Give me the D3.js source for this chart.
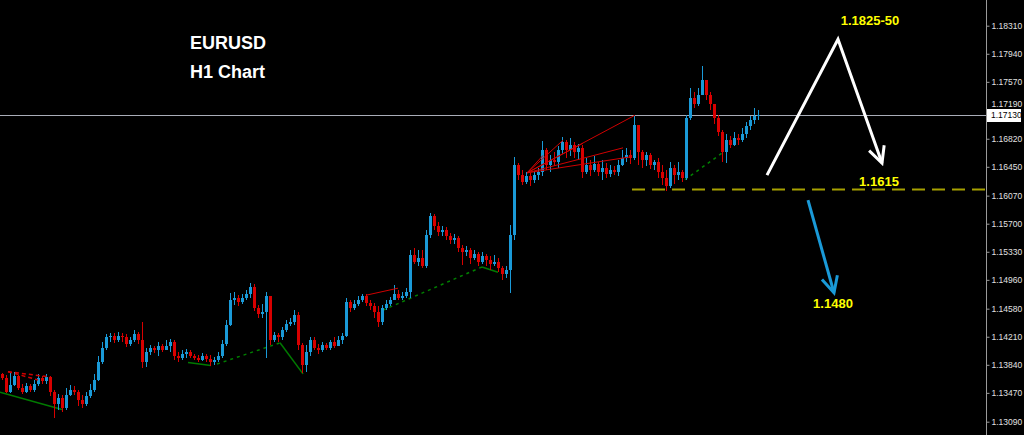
<!DOCTYPE html>
<html>
<head>
<meta charset="utf-8">
<script src="https://cdn.jsdelivr.net/npm/d3@7"></script>
<style>
  body { margin: 0; background: #000; overflow: hidden; }
</style>
</head>
<body>
<div id="chart-area"></div>
<script>
const WIDTH = 1024
const HEIGHT = 435
const AXIS_X = 986

// price scale labels (right side)
const tickLabels = ["1.18310", "1.17940", "1.17570", "1.17190", "1.16820", "1.16450", "1.16070",
  "1.15700", "1.15330", "1.14960", "1.14580", "1.14210", "1.13840", "1.13470", "1.13090"]
const tickValues = tickLabels.map(Number)
const lastPrice = 1.17130

// H1 candles, open = previous close
const firstOpen = 1.1372
const closes = [
  1.1367, 1.1348, 1.1357, 1.1369, 1.1354, 1.1348, 1.1356, 1.1351, 1.1359, 1.1367,
  1.1363, 1.1368, 1.1348, 1.1332, 1.1340, 1.1327, 1.1344, 1.1351, 1.1348, 1.1338,
  1.1332, 1.1343, 1.1351, 1.1364, 1.1388, 1.1406, 1.1420, 1.1422, 1.1417, 1.1422,
  1.1420, 1.1412, 1.1417, 1.1425, 1.1417, 1.1388, 1.1401, 1.1406, 1.1404, 1.1409,
  1.1404, 1.1409, 1.1414, 1.1396, 1.1393, 1.1398, 1.1401, 1.1396, 1.1393, 1.1390,
  1.1396, 1.1392, 1.1388, 1.1390, 1.1396, 1.1412, 1.1437, 1.1470, 1.1472, 1.1467,
  1.1472, 1.1477, 1.1487, 1.1459, 1.1451, 1.1454, 1.1475, 1.1417, 1.1423, 1.1420,
  1.1430, 1.1438, 1.1441, 1.1450, 1.1410, 1.1384, 1.1401, 1.1417, 1.1406, 1.1404,
  1.1410, 1.1406, 1.1414, 1.1409, 1.1417, 1.1422, 1.1467, 1.1459, 1.1464, 1.1470,
  1.1475, 1.1466, 1.1462, 1.1454, 1.1441, 1.1459, 1.1464, 1.1470, 1.1477, 1.1472,
  1.1475, 1.1480, 1.1529, 1.1520, 1.1525, 1.1514, 1.1555, 1.1580, 1.1567, 1.1559,
  1.1562, 1.1554, 1.1549, 1.1551, 1.1538, 1.1533, 1.1535, 1.1525, 1.1530, 1.1520,
  1.1528, 1.1522, 1.1517, 1.1520, 1.1512, 1.1504, 1.1509, 1.1555, 1.1647, 1.1634,
  1.1625, 1.1633, 1.1628, 1.1634, 1.1638, 1.1667, 1.1647, 1.1654, 1.1651, 1.1667,
  1.1678, 1.1667, 1.1674, 1.1665, 1.1670, 1.1638, 1.1647, 1.1641, 1.1649, 1.1638,
  1.1644, 1.1636, 1.1641, 1.1638, 1.1647, 1.1657, 1.1661, 1.1657, 1.1700, 1.1665,
  1.1654, 1.1661, 1.1647, 1.1651, 1.1638, 1.1630, 1.1620, 1.1644, 1.1634, 1.1638,
  1.1630, 1.1709, 1.1736, 1.1728, 1.1740, 1.1759, 1.1740, 1.1728, 1.1709, 1.1691,
  1.1665, 1.1680, 1.1674, 1.1683, 1.1680, 1.1688, 1.1699, 1.1707, 1.1712, 1.1713
]
const highs = [
  1.1373, 1.1371, 1.1373, 1.1375, 1.1371, 1.1359, 1.1360, 1.1359, 1.1364, 1.1372,
  1.1369, 1.1372, 1.1369, 1.1351, 1.1346, 1.1344, 1.1354, 1.1357, 1.1356, 1.1351,
  1.1344, 1.1348, 1.1359, 1.1372, 1.1396, 1.1414, 1.1425, 1.1426, 1.1426, 1.1427,
  1.1426, 1.1425, 1.1421, 1.1430, 1.1427, 1.1441, 1.1406, 1.1410, 1.1409, 1.1414,
  1.1412, 1.1417, 1.1418, 1.1417, 1.1401, 1.1404, 1.1405, 1.1404, 1.1398, 1.1397,
  1.1400, 1.1398, 1.1397, 1.1394, 1.1401, 1.1417, 1.1443, 1.1479, 1.1480, 1.1476,
  1.1477, 1.1483, 1.1492, 1.1491, 1.1463, 1.1464, 1.1480, 1.1470, 1.1427, 1.1426,
  1.1434, 1.1443, 1.1446, 1.1456, 1.1454, 1.1413, 1.1410, 1.1421, 1.1420, 1.1412,
  1.1414, 1.1413, 1.1417, 1.1420, 1.1422, 1.1426, 1.1472, 1.1470, 1.1470, 1.1475,
  1.1477, 1.1477, 1.1470, 1.1466, 1.1462, 1.1463, 1.1470, 1.1474, 1.1489, 1.1483,
  1.1480, 1.1485, 1.1535, 1.1538, 1.1535, 1.1535, 1.1562, 1.1584, 1.1583, 1.1572,
  1.1567, 1.1565, 1.1558, 1.1557, 1.1554, 1.1542, 1.1541, 1.1538, 1.1535, 1.1533,
  1.1533, 1.1530, 1.1528, 1.1529, 1.1525, 1.1514, 1.1514, 1.1568, 1.1658, 1.1650,
  1.1641, 1.1638, 1.1637, 1.1640, 1.1644, 1.1679, 1.1670, 1.1661, 1.1665, 1.1673,
  1.1684, 1.1680, 1.1683, 1.1678, 1.1675, 1.1674, 1.1657, 1.1654, 1.1659, 1.1651,
  1.1654, 1.1650, 1.1647, 1.1646, 1.1654, 1.1667, 1.1670, 1.1667, 1.1713, 1.1700,
  1.1667, 1.1665, 1.1663, 1.1654, 1.1657, 1.1647, 1.1641, 1.1651, 1.1647, 1.1651,
  1.1641, 1.1713, 1.1749, 1.1744, 1.1749, 1.1778, 1.1759, 1.1744, 1.1728, 1.1713,
  1.1694, 1.1688, 1.1686, 1.1691, 1.1688, 1.1696, 1.1704, 1.1712, 1.1723, 1.1720
]
const lows = [
  1.1364, 1.1347, 1.1347, 1.1356, 1.1351, 1.1346, 1.1347, 1.1348, 1.1348, 1.1356,
  1.1359, 1.1359, 1.1343, 1.1314, 1.1324, 1.1322, 1.1325, 1.1343, 1.1344, 1.1330,
  1.1327, 1.1330, 1.1340, 1.1348, 1.1362, 1.1385, 1.1404, 1.1414, 1.1413, 1.1414,
  1.1414, 1.1408, 1.1409, 1.1414, 1.1412, 1.1380, 1.1381, 1.1397, 1.1400, 1.1396,
  1.1401, 1.1404, 1.1401, 1.1390, 1.1388, 1.1390, 1.1393, 1.1393, 1.1390, 1.1388,
  1.1389, 1.1388, 1.1383, 1.1384, 1.1388, 1.1393, 1.1409, 1.1435, 1.1463, 1.1462,
  1.1464, 1.1470, 1.1472, 1.1455, 1.1446, 1.1446, 1.1393, 1.1410, 1.1414, 1.1414,
  1.1417, 1.1427, 1.1435, 1.1437, 1.1404, 1.1373, 1.1375, 1.1396, 1.1404, 1.1398,
  1.1401, 1.1404, 1.1404, 1.1406, 1.1409, 1.1412, 1.1420, 1.1454, 1.1456, 1.1462,
  1.1467, 1.1462, 1.1456, 1.1446, 1.1434, 1.1437, 1.1456, 1.1462, 1.1472, 1.1470,
  1.1470, 1.1472, 1.1472, 1.1517, 1.1514, 1.1512, 1.1512, 1.1551, 1.1562, 1.1554,
  1.1554, 1.1549, 1.1543, 1.1543, 1.1533, 1.1516, 1.1528, 1.1517, 1.1522, 1.1514,
  1.1517, 1.1514, 1.1509, 1.1514, 1.1506, 1.1496, 1.1499, 1.1479, 1.1549, 1.1628,
  1.1621, 1.1622, 1.1620, 1.1624, 1.1628, 1.1633, 1.1641, 1.1638, 1.1646, 1.1644,
  1.1662, 1.1657, 1.1659, 1.1657, 1.1654, 1.1630, 1.1636, 1.1633, 1.1638, 1.1633,
  1.1628, 1.1630, 1.1632, 1.1634, 1.1633, 1.1646, 1.1651, 1.1649, 1.1654, 1.1647,
  1.1644, 1.1646, 1.1642, 1.1641, 1.1630, 1.1621, 1.1613, 1.1617, 1.1622, 1.1628,
  1.1625, 1.1628, 1.1707, 1.1723, 1.1725, 1.1740, 1.1733, 1.1720, 1.1702, 1.1686,
  1.1651, 1.1650, 1.1670, 1.1673, 1.1674, 1.1678, 1.1683, 1.1694, 1.1702, 1.1707
]

// trend lines drawn by the indicator: [bar, price] pairs
const redSolid = [
  [[91.25, 1.1476], [99, 1.1485]],
  [[131.25, 1.1637], [158.25, 1.1713]],
  [[131.25, 1.1637], [140.25, 1.1680]],
  [[131.25, 1.1637], [135.25, 1.1660]],
  [[131.25, 1.1637], [155.25, 1.1670]],
  [[131.25, 1.1637], [157, 1.1658]],
  [[131.25, 1.1637], [145.25, 1.1676]]
]
const redDashed = [
  [[1.5, 1.1375], [12, 1.1368]],
  [[1.5, 1.1375], [9, 1.1364]]
]
const greenSolid = [
  [[-0.5, 1.1348], [15, 1.1325]],
  [[46.5, 1.1387], [52.2, 1.1383]],
  [[69.5, 1.1413], [75.25, 1.1372]],
  [[120, 1.1513], [124, 1.1506]]
]
const greenDashed = [
  [[53.75, 1.1385], [69.5, 1.1413]],
  [[95.25, 1.1456], [120, 1.1513]],
  [[170.75, 1.1628], [180, 1.1663]]
]

// analyst annotations
const keyLevel = 1.1615
const keyLevelStart = 157.5
const bullPath = [[191.25, 1.1634], [209, 1.1813], [220, 1.1650]]
const bearPath = [[201.5, 1.1601], [208, 1.1479]]
const targetLabels = [
  { text: "1.1825-50", bar: 217, price: 1.1832 },
  { text: "1.1615", bar: 219.25, price: 1.1620 },
  { text: "1.1480", bar: 207.75, price: 1.1459 }
]

const svg = d3.select("#chart-area").append("svg")
  .attr("width", WIDTH)
  .attr("height", HEIGHT)
  .style("background", "#000")

// scales
const x = d3.scaleLinear().domain([0, closes.length - 1]).range([2, 758])
const y = d3.scaleLinear()
  .domain([tickValues[0], tickValues[tickValues.length - 1]])
  .range([25.7, 421.7])

const toPoint = p => [x(p[0]), y(p[1])]

// title
svg.append("text")
  .attr("x", 190).attr("y", 49)
  .attr("fill", "#fff")
  .attr("font-family", "Liberation Sans, Arial, sans-serif")
  .attr("font-weight", "bold")
  .attr("font-size", 18)
  .text("EURUSD")
svg.append("text")
  .attr("x", 190).attr("y", 78)
  .attr("fill", "#fff")
  .attr("font-family", "Liberation Sans, Arial, sans-serif")
  .attr("font-weight", "bold")
  .attr("font-size", 18)
  .text("H1 Chart")

// current price line
svg.append("line")
  .attr("x1", 0).attr("x2", AXIS_X)
  .attr("y1", Math.round(y(lastPrice)) + 0.5).attr("y2", Math.round(y(lastPrice)) + 0.5)
  .attr("stroke", "#a9adb8")
  .attr("stroke-width", 1)

// key level
svg.append("line")
  .attr("x1", x(keyLevelStart)).attr("x2", AXIS_X)
  .attr("y1", y(keyLevel)).attr("y2", y(keyLevel))
  .attr("stroke", "#a6a000")
  .attr("stroke-width", 2)
  .attr("stroke-dasharray", "13,7")

// trend lines
const lineGen = d3.line().x(d => x(d[0])).y(d => y(d[1]))
const drawLines = (list, color, width, dash) => {
  svg.append("g").selectAll("path").data(list).join("path")
    .attr("d", lineGen)
    .attr("fill", "none")
    .attr("stroke", color)
    .attr("stroke-width", width)
    .attr("stroke-dasharray", dash)
}
drawLines(greenSolid, "#007a00", 1.5, null)
drawLines(greenDashed, "#008000", 1.5, "3,4")

// candles
const candles = closes.map((c, i) => {
  const o = i ? closes[i - 1] : firstOpen
  return { i, o, c, h: Math.max(highs[i], o, c), l: Math.min(lows[i], o, c) }
})
const up = "#1a9ad8"
const down = "#d80000"
const cg = svg.append("g").attr("shape-rendering", "crispEdges")
cg.selectAll(".wick").data(candles).join("line")
  .attr("class", "wick")
  .attr("x1", d => Math.round(x(d.i)) + 0.5)
  .attr("x2", d => Math.round(x(d.i)) + 0.5)
  .attr("y1", d => y(d.h))
  .attr("y2", d => y(d.l))
  .attr("stroke", d => d.c >= d.o ? up : down)
cg.selectAll(".body").data(candles).join("rect")
  .attr("class", "body")
  .attr("x", d => Math.round(x(d.i)) - 1)
  .attr("width", 3)
  .attr("y", d => y(Math.max(d.o, d.c)))
  .attr("height", d => Math.max(1, Math.abs(y(d.o) - y(d.c))))
  .attr("fill", d => d.c >= d.o ? up : down)

drawLines(redSolid, "#d00000", 1, null)
drawLines(redDashed, "#d00000", 1.5, "4,3")

// arrows
const defs = svg.append("defs")
const marker = (id, color) => {
  defs.append("marker")
    .attr("id", id)
    .attr("viewBox", "0 0 20 20")
    .attr("refX", 17).attr("refY", 10)
    .attr("markerWidth", 20).attr("markerHeight", 20)
    .attr("markerUnits", "userSpaceOnUse")
    .attr("orient", "auto")
    .append("path")
    .attr("d", "M1,2 L17,10 L1,18")
    .attr("fill", "none")
    .attr("stroke", color)
    .attr("stroke-width", 3)
}
marker("head-white", "#fff")
marker("head-blue", "#1a9ad8")

svg.append("path")
  .attr("d", d3.line()(bullPath.map(toPoint)))
  .attr("fill", "none")
  .attr("stroke", "#fff")
  .attr("stroke-width", 3)
  .attr("marker-end", "url(#head-white)")
svg.append("path")
  .attr("d", d3.line()(bearPath.map(toPoint)))
  .attr("fill", "none")
  .attr("stroke", "#1a9ad8")
  .attr("stroke-width", 3)
  .attr("marker-end", "url(#head-blue)")

svg.append("g").selectAll("text").data(targetLabels).join("text")
  .attr("x", d => x(d.bar))
  .attr("y", d => y(d.price))
  .attr("text-anchor", "middle")
  .attr("fill", "#ffff00")
  .attr("font-family", "Liberation Sans, Arial, sans-serif")
  .attr("font-weight", "bold")
  .attr("font-size", 13)
  .text(d => d.text)

// price axis
const yAxisCall = d3.axisRight(y)
  .tickValues(tickValues)
  .tickSize(3)
  .tickPadding(2)
  .tickFormat(d => tickLabels[tickValues.indexOf(d)])
const yAxis = svg.append("g")
  .attr("transform", `translate(${AXIS_X + 0.5}, 0)`)
  .call(yAxisCall)
yAxis.select(".domain").remove()
yAxis.selectAll("line").attr("stroke", "#9a9a9a")
yAxis.selectAll("text")
  .attr("fill", "#e0e0e0")
  .attr("font-family", "Liberation Sans, Arial, sans-serif")
  .attr("font-size", 8.5)
// label right under the last price tag peeks out above it
yAxis.selectAll("text")
  .filter(d => Math.abs(y(d) - y(lastPrice)) < 10)
  .attr("dy", "-0.45em")
svg.append("line")
  .attr("x1", AXIS_X + 0.5).attr("x2", AXIS_X + 0.5)
  .attr("y1", 0).attr("y2", HEIGHT)
  .attr("stroke", "#9a9a9a")

// last price tag
const tagY = y(lastPrice)
svg.append("rect")
  .attr("x", AXIS_X + 1).attr("y", Math.round(tagY) - 6)
  .attr("width", 34).attr("height", 13)
  .attr("fill", "#fff")
svg.append("text")
  .attr("x", AXIS_X + 5).attr("y", tagY)
  .attr("dy", "0.35em")
  .attr("fill", "#000")
  .attr("font-family", "Liberation Sans, Arial, sans-serif")
  .attr("font-size", 8.5)
  .text(lastPrice.toFixed(5))
</script>
</body>
</html>
